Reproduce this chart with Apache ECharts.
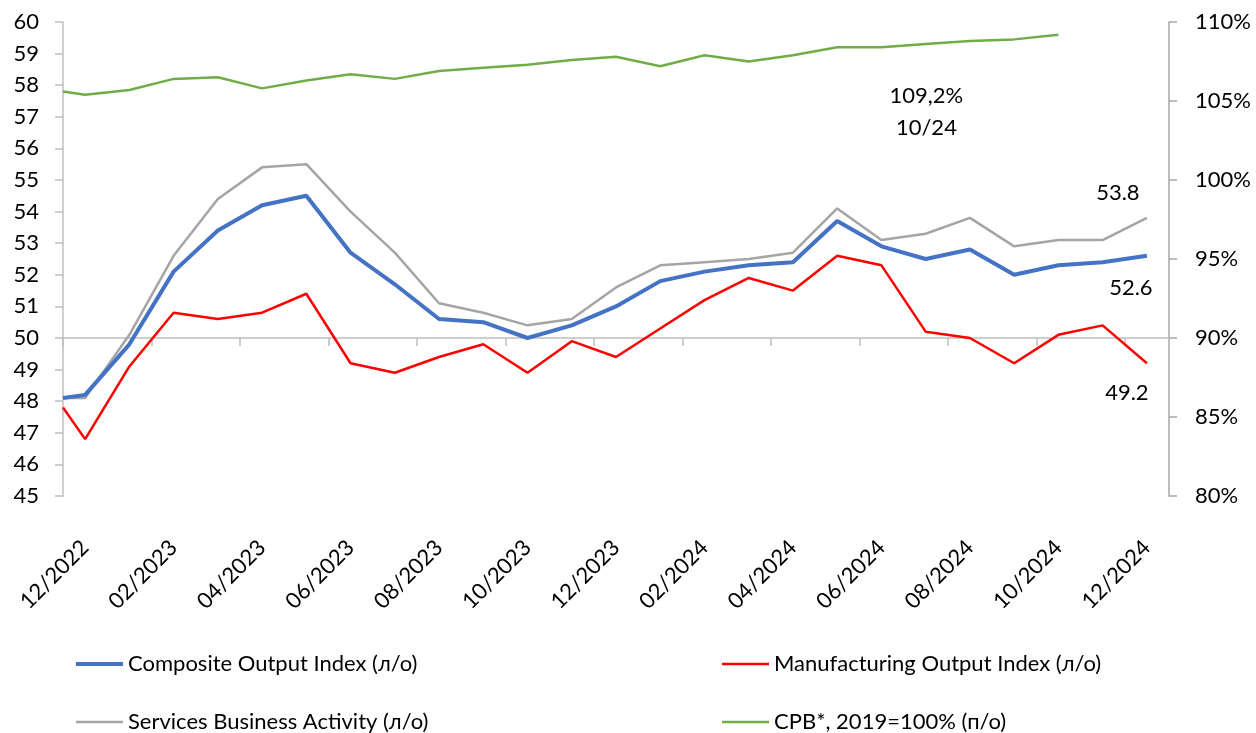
<!DOCTYPE html>
<html>
<head>
<meta charset="utf-8">
<script src="https://cdn.jsdelivr.net/npm/echarts@6/dist/echarts.min.js"></script>
<style>
html,body{margin:0;padding:0;background:#fff;}
#chart{width:1256px;height:733px;}
</style>
</head>
<body>
<div id="chart"></div>
<script>
// ---- data ----
// month labels on the category axis (12/2022 .. 12/2024)
const monthLabels = ['12/2022','01/2023','02/2023','03/2023','04/2023','05/2023','06/2023','07/2023','08/2023','09/2023','10/2023','11/2023','12/2023',
  '01/2024','02/2024','03/2024','04/2024','05/2024','06/2024','07/2024','08/2024','09/2024','10/2024','11/2024','12/2024'];
// x position of each observation, in months from 12/2022 (first observation sits half a month earlier)
const monthIndex = [-0.5, 0, 1, 2, 3, 4, 5, 6, 7, 8, 9, 10, 11, 12, 13, 14, 15, 16, 17, 18, 19, 20, 21, 22, 23, 24];
const composite = [48.1, 48.2, 49.8, 52.1, 53.4, 54.2, 54.5, 52.7, 51.7, 50.6, 50.5, 50.0, 50.4, 51.0, 51.8, 52.1, 52.3, 52.4, 53.7, 52.9, 52.5, 52.8, 52.0, 52.3, 52.4, 52.6];
const manufacturing = [47.8, 46.8, 49.1, 50.8, 50.6, 50.8, 51.4, 49.2, 48.9, 49.4, 49.8, 48.9, 49.9, 49.4, 50.3, 51.2, 51.9, 51.5, 52.6, 52.3, 50.2, 50.0, 49.2, 50.1, 50.4, 49.2];
const services = [48.1, 48.1, 50.1, 52.6, 54.4, 55.4, 55.5, 54.0, 52.7, 51.1, 50.8, 50.4, 50.6, 51.6, 52.3, 52.4, 52.5, 52.7, 54.1, 53.1, 53.3, 53.8, 52.9, 53.1, 53.1, 53.8];
const cpb = [105.6, 105.4, 105.7, 106.4, 106.5, 105.8, 106.3, 106.7, 106.4, 106.9, 107.1, 107.3, 107.6, 107.8, 107.2, 107.9, 107.5, 107.9, 108.4, 108.4, 108.6, 108.8, 108.9, 109.2, null, null];
const leftTicks = {min: 45, max: 60, step: 1};
const rightTicks = {min: 80, max: 110, step: 5};
const names = ['Composite Output Index (л/о)', 'Manufacturing Output Index (л/о)', 'Services Business Activity (л/о)', 'CPB*, 2019=100% (п/о)'];

// ---- layout ----
const FONT = 'Lato';
const gridTop = 22, gridBottom = 237, chartH = 733;
const gridH = chartH - gridTop - gridBottom;
const crossOffset = -(50 - leftTicks.min) / (leftTicks.max - leftTicks.min) * gridH;

function pairs(vals) { return vals.map((v, i) => [monthIndex[i], v]); }
function lastValid(vals) { let i = vals.length - 1; while (i >= 0 && vals[i] == null) i--; return i; }
function endMark(vals, offset, fmt) {
  const i = lastValid(vals);
  return {
    symbol: 'circle', symbolSize: 1, silent: true,
    itemStyle: {color: 'rgba(0,0,0,0)'},
    label: {show: true, position: 'inside', offset: offset, color: '#000', fontFamily: FONT, fontSize: 22, lineHeight: 32,
      formatter: () => fmt(vals[i], i)},
    data: [{coord: [monthIndex[i], vals[i]], value: vals[i]}]
  };
}
function legendItem(name, left, top, thick) {
  return {data: [{name: name, icon: 'rect'}], orient: 'horizontal', left: left, top: top, padding: 0,
    itemWidth: 47, itemHeight: thick, itemGap: 0, selectedMode: false,
    textStyle: {color: '#000', fontFamily: FONT, fontSize: 22, lineHeight: 26}};
}

const chart = echarts.init(document.getElementById('chart'), null, {renderer: 'canvas'});
const axisGray = '#BFBFBF';
chart.setOption({
  backgroundColor: '#fff',
  animation: false,
  textStyle: {fontFamily: FONT},
  grid: {left: 63, right: 87, top: gridTop, bottom: gridBottom, containLabel: false, outerBoundsMode: 'none'},
  legend: [
    legendItem(names[0], 76, 651, 4),
    legendItem(names[2], 76, 709, 2.5),
    legendItem(names[1], 722, 651, 2.5),
    legendItem(names[3], 722, 709, 2.5)
  ],
  xAxis: [
    {type: 'value', min: -0.5, max: 24.5, show: false},
    {type: 'category', data: monthLabels, boundaryGap: true, position: 'bottom',
      axisLine: {show: false}, axisTick: {show: false}, splitLine: {show: false},
      axisLabel: {interval: 1, rotate: 45, margin: 48, color: '#000', fontFamily: FONT, fontSize: 22}},
    {type: 'category', data: monthLabels, boundaryGap: true, position: 'bottom', offset: crossOffset,
      axisLine: {show: true, onZero: false, lineStyle: {color: axisGray, width: 1.5}},
      axisTick: {show: true, interval: 1, length: 8, lineStyle: {color: axisGray, width: 1.5}},
      axisLabel: {show: false}, splitLine: {show: false}}
  ],
  yAxis: [
    {type: 'value', min: leftTicks.min, max: leftTicks.max, interval: leftTicks.step, position: 'left',
      axisLine: {show: true, onZero: false, lineStyle: {color: axisGray, width: 1.5}},
      axisTick: {show: true, length: 8, lineStyle: {color: axisGray, width: 1.5}},
      splitLine: {show: false},
      axisLabel: {margin: 24, color: '#000', fontFamily: FONT, fontSize: 22}},
    {type: 'value', min: rightTicks.min, max: rightTicks.max, interval: rightTicks.step, position: 'right',
      axisLine: {show: true, onZero: false, lineStyle: {color: '#A6A6A6', width: 1.5}},
      axisTick: {show: true, length: 8, lineStyle: {color: '#A6A6A6', width: 1.5}},
      splitLine: {show: false},
      axisLabel: {margin: 26, color: '#000', fontFamily: FONT, fontSize: 22, formatter: '{value}%'}}
  ],
  series: [
    {name: names[3], type: 'line', xAxisIndex: 0, yAxisIndex: 1, data: pairs(cpb), symbol: 'none',
      lineStyle: {color: '#70AD47', width: 2.5}, itemStyle: {color: '#70AD47'},
      markPoint: endMark(cpb, [-132, 77], (v, i) => v.toFixed(1).replace('.', ',') + '%\n' + monthLabels[i - 1].slice(0, 3) + monthLabels[i - 1].slice(5))},
    {name: names[2], type: 'line', xAxisIndex: 0, yAxisIndex: 0, data: pairs(services), symbol: 'none',
      lineStyle: {color: '#A5A5A5', width: 2.5}, itemStyle: {color: '#A5A5A5'},
      markPoint: endMark(services, [-29, -25], v => v.toFixed(1))},
    {name: names[1], type: 'line', xAxisIndex: 0, yAxisIndex: 0, data: pairs(manufacturing), symbol: 'none',
      lineStyle: {color: '#FF0000', width: 2.5}, itemStyle: {color: '#FF0000'},
      markPoint: endMark(manufacturing, [-20, 30], v => v.toFixed(1))},
    {name: names[0], type: 'line', xAxisIndex: 0, yAxisIndex: 0, data: pairs(composite), symbol: 'none',
      lineStyle: {color: '#4472C4', width: 4}, itemStyle: {color: '#4472C4'},
      markPoint: endMark(composite, [-16, 32], v => v.toFixed(1))}
  ]
});
</script>
</body>
</html>
